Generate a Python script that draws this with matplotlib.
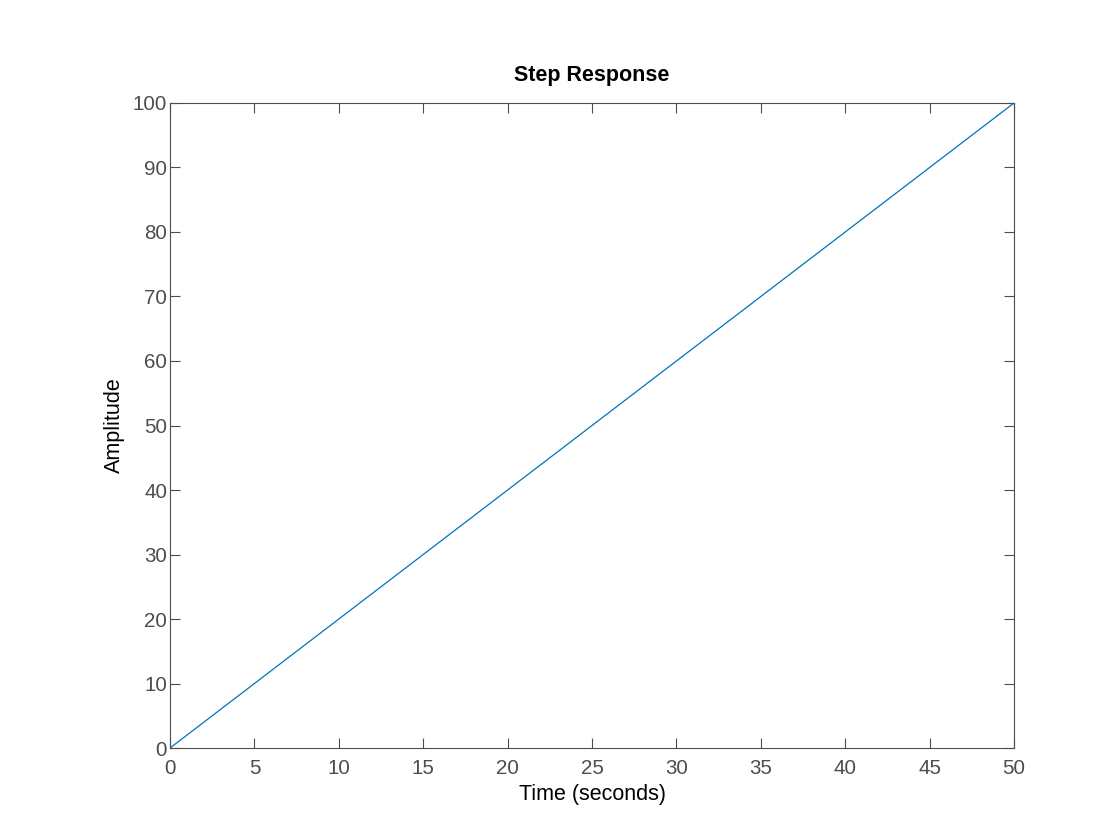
import matplotlib
matplotlib.use("Agg")
import matplotlib.pyplot as plt

# ramp response
time = [0, 50]
amplitude = [0, 100]
xticks = [0, 5, 10, 15, 20, 25, 30, 35, 40, 45, 50]
yticks = [0, 10, 20, 30, 40, 50, 60, 70, 80, 90, 100]

plt.rcParams['font.family'] = ['Liberation Sans', 'DejaVu Sans']
axisGray = '#4d4d4d'

fig = plt.figure(figsize=(11.2, 8.4), dpi=100)
ax = fig.add_axes([0.1518, 0.1095, 0.7536, 0.7679])
ax.plot(time, amplitude, color='#0072BD', linewidth=0.9)

ax.set_xlim(0, 50)
ax.set_ylim(0, 100)
ax.set_xticks(xticks)
ax.set_yticks(yticks)
ax.tick_params(direction='in', top=True, right=True, length=7, width=0.8,
               colors=axisGray, labelsize=14.8)
ax.tick_params(axis='x', pad=8)
ax.tick_params(axis='y', pad=2)
for spine in ax.spines.values():
    spine.set_color(axisGray)
    spine.set_linewidth(0.8)

ax.set_xlabel('Time (seconds)', fontsize=15.5, labelpad=4)
ax.set_ylabel('Amplitude', fontsize=15.5, labelpad=6)
ax.set_title('Step Response', fontsize=15.5, fontweight='bold', pad=16)

fig.savefig('out.png', dpi=100)
